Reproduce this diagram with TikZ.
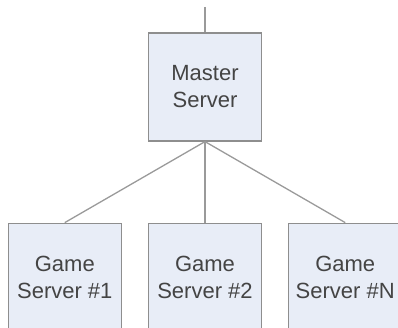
\documentclass[tikz,border=0pt]{standalone}
\usepackage{fontspec}
\setmainfont{Liberation Sans}
\usetikzlibrary{positioning}
\definecolor{boxfill}{HTML}{E8EDF7}
\definecolor{boxline}{HTML}{8E8E8E}
\definecolor{linkgray}{HTML}{9A9A9A}
\definecolor{textgray}{HTML}{444444}
\begin{document}
\begin{tikzpicture}[
    x=1pt, y=-1pt,
    every node/.style={font=\fontsize{22}{27}\selectfont, text=textgray},
    node distance=81pt and 26pt,
    server/.style={rectangle, draw=boxline, fill=boxfill, line width=1.2pt, minimum width=113pt, minimum height=108pt, align=center, inner sep=0pt},
    link/.style={draw=linkgray, line width=1.3pt}
]
\useasboundingbox (0,0) rectangle (398,328);
\clip (0,0) rectangle (398,328);
\coordinate (up) at (205,7);
\node[server] (master) at (205,87) {Master\\Server};
\node[server, below=of master] (game2) {Game\\Server \#2};
\node[server, left=of game2] (game1) {Game\\Server \#1};
\node[server, right=of game2] (gameN) {Game\\Server \#N};

\draw[link] (up) -- (master.north);
\draw[link] (master.south) -- (game1.north);
\draw[link] (master.south) -- (game2.north);
\draw[link] (master.south) -- (gameN.north);
\end{tikzpicture}
\end{document}
